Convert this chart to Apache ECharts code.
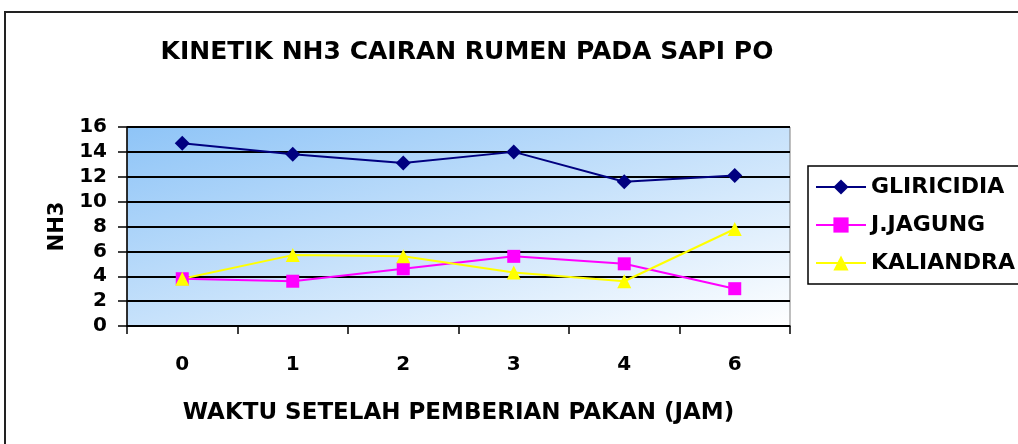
<!DOCTYPE html>
<html>
<head>
<meta charset="utf-8">
<script src="https://cdn.jsdelivr.net/npm/echarts@6/dist/echarts.min.js"></script>
<style>
  html, body { margin: 0; padding: 0; background: #fff; }
  #chart { width: 1018px; height: 444px; }
</style>
</head>
<body>
<div id="chart"></div>
<script>
// data
var categories = ["0", "1", "2", "3", "4", "6"];
var gliricidia = [14.7, 13.8, 13.1, 14.0, 11.6, 12.1];
var jagung = [3.8, 3.6, 4.6, 5.6, 5.0, 3.0];
var kaliandra = [3.8, 5.7, 5.6, 4.3, 3.6, 7.8];
var seriesNames = ["GLIRICIDIA", "J.JAGUNG", "KALIANDRA"];

var font = "DejaVu Sans, Verdana, sans-serif";
var chart = echarts.init(document.getElementById("chart"));

var option = {
  backgroundColor: "#ffffff",
  animation: false,
  title: {
    text: "KINETIK NH3 CAIRAN RUMEN PADA SAPI PO",
    left: 462,
    textAlign: "center",
    top: 35,
    textStyle: { fontFamily: font, fontWeight: "bold", fontSize: 25, color: "#000" }
  },
  graphic: [
    {
      type: "rect",
      shape: { x: 5, y: 12, width: 1040, height: 460 },
      style: { fill: null, stroke: "#222", lineWidth: 2 },
      silent: true
    },
    {
      type: "rect",
      shape: { x: 808, y: 166, width: 240, height: 118 },
      style: { fill: "#fff", stroke: "#000", lineWidth: 1.5 },
      silent: true
    }
  ],
  legend: {
    orient: "vertical",
    left: 810,
    top: 171,
    itemGap: 16,
    itemWidth: 50,
    itemHeight: 19,
    data: seriesNames,
    textStyle: { fontFamily: font, fontWeight: "bold", fontSize: 22, color: "#000" }
  },
  grid: {
    left: 127,
    top: 127,
    width: 663,
    height: 199,
    show: true,
    borderWidth: 1,
    borderColor: "#808080",
    // diagonal shading: same tone along the top-right / bottom-left diagonal
    backgroundColor: {
      type: "linear",
      x: 0, y: 0, x2: 0.165, y2: 1.835,
      colorStops: [
        { offset: 0, color: "#8ec4f7" },
        { offset: 1, color: "#ffffff" }
      ]
    }
  },
  xAxis: {
    type: "category",
    data: categories,
    boundaryGap: true,
    name: "WAKTU SETELAH PEMBERIAN PAKAN (JAM)",
    nameLocation: "middle",
    nameGap: 76,
    nameTextStyle: { fontFamily: font, fontWeight: "bold", fontSize: 23, color: "#000" },
    axisLine: { lineStyle: { color: "#000", width: 1.5 } },
    axisTick: { show: true, length: 8, inside: false, lineStyle: { color: "#000", width: 1.5 } },
    axisLabel: { margin: 29, fontFamily: font, fontWeight: "bold", fontSize: 20, color: "#000" }
  },
  yAxis: {
    type: "value",
    min: 0,
    max: 16,
    interval: 2,
    name: "NH3",
    nameLocation: "middle",
    nameRotate: 90,
    nameGap: 58,
    nameTextStyle: { fontFamily: font, fontWeight: "bold", fontSize: 21, color: "#000" },
    axisLine: { show: true, lineStyle: { color: "#000", width: 1.5 } },
    axisTick: { show: true, length: 9, lineStyle: { color: "#000", width: 1.5 } },
    axisLabel: { margin: 20, fontFamily: font, fontWeight: "bold", fontSize: 20, color: "#000" },
    splitLine: { show: true, lineStyle: { color: "#000", width: 2 } }
  },
  series: [
    {
      name: seriesNames[0],
      type: "line",
      data: gliricidia,
      symbol: "diamond",
      symbolSize: 15,
      color: "#000080",
      lineStyle: { width: 2, color: "#000080" }
    },
    {
      name: seriesNames[1],
      type: "line",
      data: jagung,
      symbol: "rect",
      symbolSize: 13,
      color: "#ff00ff",
      lineStyle: { width: 2, color: "#ff00ff" }
    },
    {
      name: seriesNames[2],
      type: "line",
      data: kaliandra,
      symbol: "triangle",
      symbolSize: 14,
      color: "#ffff00",
      lineStyle: { width: 2, color: "#ffff00" }
    }
  ]
};

chart.setOption(option);
window.onresize = chart.resize;
</script>
</body>
</html>
